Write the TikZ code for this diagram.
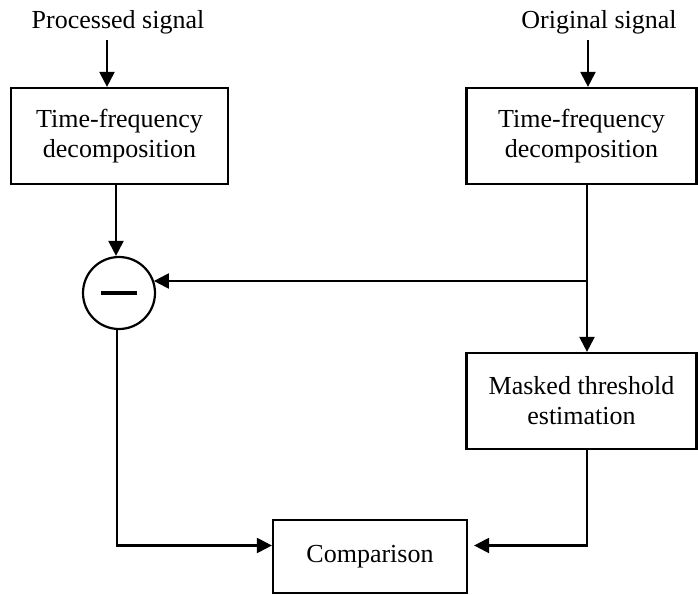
\documentclass[tikz,border=0pt]{standalone}
\usepackage{fontspec}
\setmainfont{Liberation Serif}
\usetikzlibrary{arrows.meta}

\tikzset{every path/.style={line width=1.1 pt}}
\tikzset{blk/.style={draw, align=center, inner sep=0pt},
         arr/.style={-{Triangle[length=7.5pt,width=7.5pt]}}}

\begin{document}
\begin{tikzpicture}[x=0.5pt,y=-0.5pt,font=\fontsize{13}{15}\selectfont]
\useasboundingbox (0,0) rectangle (698,595);

\node[anchor=base] (proc) at (118,28) {Processed signal};
\node[anchor=base] (orig) at (599,28) {Original signal};
\node[blk, minimum width=108.5pt, minimum height=48pt] (tf1) at (119.5,136) {Time-frequency\\decomposition};
\node[blk, minimum width=115pt, minimum height=48pt] (tf2) at (581.5,136) {Time-frequency\\decomposition};
\node[draw, circle, minimum size=36pt, inner sep=0pt] (minus) at (119,293) {};
\draw[line width=2pt] (101,293) -- (137,293);
\node[blk, minimum width=115pt, minimum height=48pt] (mte) at (581.5,401) {Masked threshold\\estimation};
\node[blk, minimum width=97pt, minimum height=36.5pt] (cmp) at (370,556.5) {Comparison};

\coordinate (in1) at (107,40);
\coordinate (in2) at (588,40);
\coordinate (split) at (587,281);

\draw[arr] (in1) -- (in1 |- tf1.north);
\draw[arr] (in2) -- (in2 |- tf2.north);
\draw[arr] (tf1.south -| 116,0) -- (minus.north -| 116,0);
\draw[arr] (split |- tf2.south) -- (split |- mte.north);
\draw[arr] (split) -- (split -| minus.20);
\draw[arr] (minus.south -| 117,0) |- ([yshift=5.5pt]cmp.west);
\draw[arr] (split |- mte.south) |- ([yshift=5.5pt,xshift=3pt]cmp.east);
\end{tikzpicture}
\end{document}
